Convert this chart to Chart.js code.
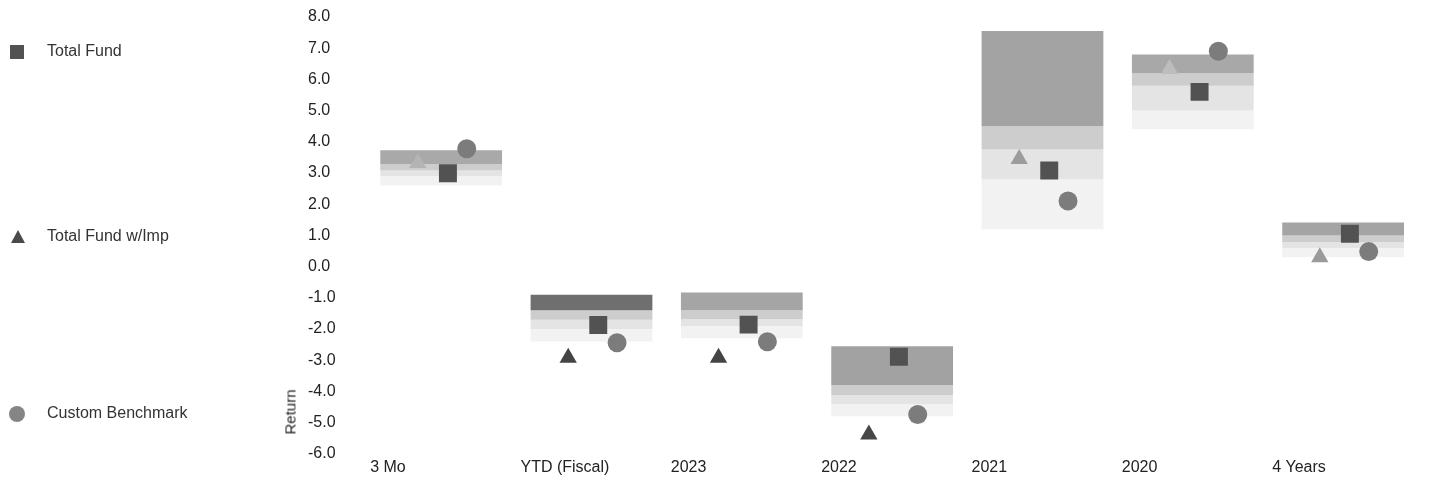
<!DOCTYPE html>
<html>
<head>
<meta charset="utf-8">
<script src="https://cdn.jsdelivr.net/npm/chart.js@4/dist/chart.umd.min.js"></script>
<style>
  html, body { margin: 0; padding: 0; background: #fff; }
  #wrap { position: relative; width: 1431px; height: 483px; }
  #myChart { position: absolute; left: 0; top: 0; }
  .leg { position: absolute; left: 0; font: 16px "Liberation Sans", Arial, sans-serif; color: #333; }
  .leg .txt { position: absolute; left: 47px; top: -10px; white-space: nowrap; }
  .leg .ico { position: absolute; }
  #ytitle { position: absolute; left: 290px; top: 412px; font: 15px "Liberation Sans", Arial, sans-serif; color: #222;
            transform: translate(-50%, -50%) rotate(-90deg); white-space: nowrap; }
</style>
</head>
<body>
<div id="wrap">
  <canvas id="myChart" width="1431" height="483"></canvas>
  <div id="ytitle">Return</div>
</div>
<script>
// categories and values
const categories = ['3 Mo', 'YTD (Fiscal)', '2023', '2022', '2021', '2020', '4 Years'];
const p5  = [3.73, -0.90, -0.83, -2.55, 7.55, 6.80, 1.41];
const p25 = [3.28, -1.40, -1.40, -3.80, 4.50, 6.20, 1.00];
const p50 = [3.08, -1.70, -1.68, -4.12, 3.75, 5.80, 0.78];
const p75 = [2.90, -2.00, -1.90, -4.40, 2.80, 5.00, 0.60];
const p95 = [2.60, -2.40, -2.30, -4.80, 1.20, 4.40, 0.30];

const totalFund    = [2.99, -1.87, -1.86, -2.89, 3.08, 5.60, 1.05];
const totalFundImp = [3.32, -2.92, -2.92, -5.38, 3.45, 6.33, 0.30];
const benchmark    = [3.78, -2.44, -2.41, -4.74, 2.10, 6.90, 0.48];

const seriesNames = ['Total Fund', 'Total Fund w/Imp', 'Custom Benchmark'];
const yTicks = [8, 7, 6, 5, 4, 3, 2, 1, 0, -1, -2, -3, -4, -5, -6];

// build range bars
function band(hi, lo){ return hi.map((v, i) => [lo[i], v]); }
const darkColors = ['#a9a9a9', '#6f6f6f', '#a5a5a5', '#a2a2a2', '#a3a3a3', '#a8a8a8', '#a4a4a4'];
const triColors = ['#b4b4b4', '#444444', '#444444', '#474747', '#9c9c9c', '#bdbdbd', '#9a9a9a'];

function pts(vals, off){ return vals.map((v, i) => ({x: i + off, y: v})); }

const barOpts = {type: 'bar', grouped: false, barPercentage: 1, categoryPercentage: 0.81, xAxisID: 'x', borderWidth: 0};

const data = {
  labels: categories,
  datasets: [
    Object.assign({label: 'p95', data: band(p75, p95), backgroundColor: '#f2f2f2', order: 10}, barOpts),
    Object.assign({label: 'p75', data: band(p50, p75), backgroundColor: '#e4e4e4', order: 9}, barOpts),
    Object.assign({label: 'p50', data: band(p25, p50), backgroundColor: '#cdcdcd', order: 8}, barOpts),
    Object.assign({label: 'p25', data: band(p5, p25), backgroundColor: darkColors, order: 7}, barOpts),
    {type: 'scatter', label: seriesNames[1], data: pts(totalFundImp, -0.155), xAxisID: 'x2',
      pointStyle: 'triangle', pointRadius: 10, pointBackgroundColor: triColors, pointBorderWidth: 0, order: 3},
    {type: 'scatter', label: seriesNames[0], data: pts(totalFund, 0.045), xAxisID: 'x2',
      pointStyle: 'rect', pointRadius: 12.7, pointBackgroundColor: '#525252', pointBorderWidth: 0, order: 2},
    {type: 'scatter', label: seriesNames[2], data: pts(benchmark, 0.17), xAxisID: 'x2',
      pointStyle: 'circle', pointRadius: 9.5, pointBackgroundColor: '#7c7c7c', pointBorderWidth: 0, order: 1}
  ]
};

const tickFont = {family: '"Liberation Sans", Arial, sans-serif', size: 16};

const config = {
  data,
  options: {
    responsive: false,
    animation: false,
    layout: {padding: {left: 308, right: 6, top: 17, bottom: 2}},
    plugins: {legend: {display: false}, tooltip: {enabled: false}},
    scales: {
      x: {
        type: 'category',
        grid: {display: false, drawTicks: false},
        border: {display: false},
        ticks: {font: tickFont, color: '#222', align: 'start', labelOffset: -71, padding: 4, maxRotation: 0, autoSkip: false}
      },
      x2: {
        type: 'linear', display: false, min: -0.5, max: categories.length - 0.5
      },
      y: {
        min: -6, max: 8,
        grid: {display: false, drawTicks: false},
        border: {display: false},
        afterBuildTicks: (axis) => { axis.ticks = yTicks.map(v => ({value: v})); },
        afterFit: (axis) => { axis.width = 58; },
        ticks: {font: tickFont, color: '#222', crossAlign: 'far', padding: 0, callback: (v) => v.toFixed(1)}
      }
    }
  }
};

const myChart = new Chart(document.getElementById('myChart'), config);

// legend on the left, spread down the page like the original
const legTops = [52, 237, 414];
const legIcons = [
  '<div class="ico" style="left:10px;top:-7px;width:14px;height:14px;background:#525252"></div>',
  '<div class="ico" style="left:11px;top:-7px;width:0;height:0;border-left:7px solid transparent;border-right:7px solid transparent;border-bottom:13px solid #4a4a4a"></div>',
  '<div class="ico" style="left:9px;top:-8px;width:16px;height:16px;border-radius:50%;background:#858585"></div>'
];
const wrap = document.getElementById('wrap');
seriesNames.forEach((name, i) => {
  const d = document.createElement('div');
  d.className = 'leg';
  d.style.top = legTops[i] + 'px';
  d.innerHTML = legIcons[i] + '<span class="txt">' + name + '</span>';
  wrap.appendChild(d);
});
</script>
</body>
</html>
